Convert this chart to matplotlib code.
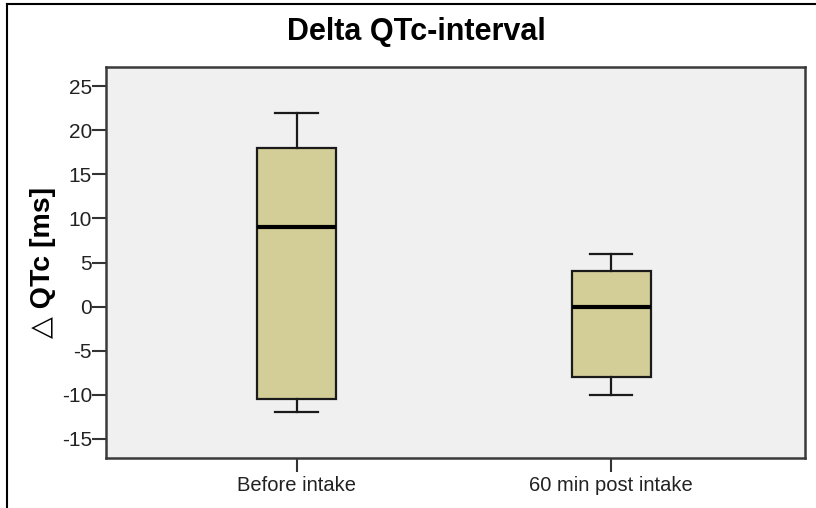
import matplotlib.pyplot as plt
from matplotlib.lines import Line2D

plt.rcParams['font.family'] = ['Liberation Sans', 'DejaVu Sans']
plt.rcParams['axes.unicode_minus'] = False

groups = ["Before intake", "60 min post intake"]
whisker_low = [-12, -10]
q1 = [-10.5, -8]
median = [9, 0]
q3 = [18, 4]
whisker_high = [22, 6]

stats = []
for i, name in enumerate(groups):
    stats.append({
        'label': name,
        'whislo': whisker_low[i],
        'q1': q1[i],
        'med': median[i],
        'q3': q3[i],
        'whishi': whisker_high[i],
        'fliers': [],
    })

fig = plt.figure(figsize=(8.16, 5.08), dpi=100)
ax = fig.add_axes([106 / 816, 1 - 458 / 508, 699 / 816, 391 / 508])
ax.set_facecolor('#f0f0f0')

ax.bxp(stats, positions=[1, 2], widths=0.25, patch_artist=True,
       boxprops=dict(facecolor='#d3ce97', edgecolor='#1a1a1a', linewidth=1.6),
       medianprops=dict(color='black', linewidth=3),
       whiskerprops=dict(color='#1a1a1a', linewidth=1.6),
       capprops=dict(color='#1a1a1a', linewidth=1.6),
       capwidths=0.135, showfliers=False)

ax.set_xlim(0.394, 2.616)
ax.set_ylim(-17.2, 27.2)
ax.set_yticks(range(-15, 30, 5))
ax.set_xticks([1, 2])
ax.set_xticklabels(groups, fontsize=14.5)
ax.tick_params(axis='y', labelsize=15, length=10, width=1.5, color='#333333',
               pad=0, labelcolor='#222222')
ax.tick_params(axis='x', length=10, width=1.5, color='#333333', pad=3,
               labelcolor='#222222')
for s in ax.spines.values():
    s.set_color('#3a3a3a')
    s.set_linewidth(1.8)

ax.set_ylabel('△ QTc [ms]', fontsize=20.5, fontweight='bold', labelpad=4,
              family=['Liberation Sans', 'DejaVu Sans'])
fig.text(416 / 816, 1 - 32 / 508, 'Delta QTc-interval',
         ha='center', va='center', fontsize=22, fontweight='bold')

# outer frame on the left and top edges
fig.add_artist(Line2D([7 / 816, 7 / 816], [0, 1 - 4 / 508], color='black',
                      linewidth=1.5, transform=fig.transFigure))
fig.add_artist(Line2D([7 / 816, 1], [1 - 4 / 508, 1 - 4 / 508], color='black',
                      linewidth=1.5, transform=fig.transFigure))

fig.savefig('out.png', dpi=100)
